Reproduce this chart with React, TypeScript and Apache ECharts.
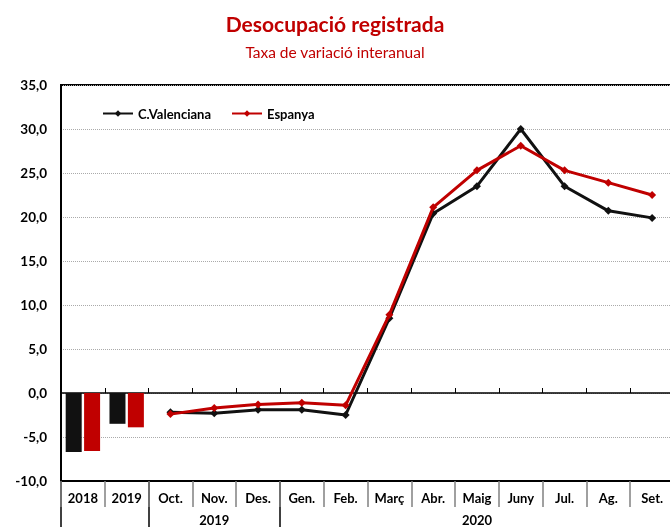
import React, { useEffect, useRef } from "react";
import * as echarts from "echarts";

const categories = ["2018", "2019", "Oct.", "Nov.", "Des.", "Gen.", "Feb.", "Març", "Abr.", "Maig", "Juny", "Jul.", "Ag.", "Set."];
const groupLabels = ["", "", "", "2019", "", "", "", "", "", "2020", "", "", "", ""];
const groupStarts = [0, 2, 5, 14];
const barCV = [-6.7, -3.5, null, null, null, null, null, null, null, null, null, null, null, null];
const barES = [-6.6, -3.9, null, null, null, null, null, null, null, null, null, null, null, null];
const lineCV = [null, null, -2.2, -2.3, -1.9, -1.9, -2.5, 8.5, 20.4, 23.5, 30.0, 23.5, 20.7, 19.9];
const lineES = [null, null, -2.4, -1.7, -1.3, -1.1, -1.4, 8.9, 21.1, 25.3, 28.1, 25.3, 23.9, 22.5];

const FONT = "Lato, 'Noto Sans', sans-serif";
const RED = "#C00000";
const BLACK = "#111111";

export default function App() {
  const ref = useRef<HTMLDivElement>(null);
  useEffect(() => {
    document.body.style.margin = "0";
    const chart = echarts.init(ref.current!, null, { renderer: "svg" });
    const option: any = {
      animation: false,
      textStyle: { fontFamily: FONT },
      title: {
        text: "Desocupació registrada",
        subtext: "Taxa de variació interanual",
        left: "center",
        top: 8,
        itemGap: 10,
        textStyle: { fontFamily: FONT, fontSize: 21, fontWeight: "bold", color: RED },
        subtextStyle: { fontFamily: FONT, fontSize: 15.5, color: RED },
      },
      legend: {
        left: 97,
        top: 102,
        itemGap: 20,
        itemWidth: 30,
        itemHeight: 8,
        data: ["C.Valenciana", "Espanya"],
        textStyle: { fontFamily: FONT, fontSize: 13, fontWeight: "bold", color: "#000" },
      },
      grid: {
        left: 61,
        top: 85,
        right: -4,
        bottom: 46,
        show: true,
        borderColor: "#000",
        borderWidth: 2,
        containLabel: false,
        outerBoundsMode: "none",
      },
      xAxis: [
        {
          type: "category",
          data: categories,
          position: "bottom",
          axisLine: { onZero: false, lineStyle: { color: "#000", width: 2 } },
          axisTick: { show: true, length: 26, inside: false, lineStyle: { color: "#808080", width: 1.5 } },
          axisLabel: { interval: 0, margin: 10, fontFamily: FONT, fontSize: 13, fontWeight: "bold", color: "#000" },
          splitLine: { show: false },
        },
        {
          type: "category",
          data: categories,
          position: "bottom",
          axisLine: { onZero: true, lineStyle: { color: "#000", width: 1.5 } },
          axisTick: { show: true, length: 5, inside: true, lineStyle: { color: "#000", width: 1 } },
          axisLabel: { show: false },
          splitLine: { show: false },
        },
        {
          type: "category",
          data: groupLabels,
          position: "bottom",
          offset: 22,
          axisLine: { show: false, onZero: false },
          axisTick: { show: false },
          axisLabel: { interval: 0, margin: 10, fontFamily: FONT, fontSize: 13, fontWeight: "bold", color: "#000" },
          splitLine: { show: false },
        },
      ],
      yAxis: {
        type: "value",
        min: -10,
        max: 35,
        interval: 5,
        axisLine: { show: true, lineStyle: { color: "#000", width: 2 } },
        axisTick: { show: false },
        axisLabel: {
          margin: 14,
          fontFamily: FONT,
          fontSize: 13.5,
          fontWeight: "bold",
          color: "#000",
          formatter: (v: number) => v.toFixed(1).replace(".", ","),
        },
        splitLine: { show: true, lineStyle: { color: "#aaaaaa", width: 1, type: [1, 1] } },
      },
      series: [
        {
          name: "C.Valenciana bar",
          type: "bar",
          data: barCV,
          barWidth: 16,
          barGap: "15%",
          itemStyle: { color: BLACK },
        },
        {
          name: "Espanya bar",
          type: "bar",
          data: barES,
          barWidth: 16,
          barGap: "15%",
          itemStyle: { color: RED },
        },
        {
          name: "C.Valenciana",
          type: "line",
          data: lineCV,
          symbol: "diamond",
          symbolSize: 8,
          lineStyle: { color: BLACK, width: 3 },
          itemStyle: { color: BLACK },
          z: 3,
        },
        {
          name: "Espanya",
          type: "line",
          data: lineES,
          symbol: "diamond",
          symbolSize: 8,
          lineStyle: { color: RED, width: 3 },
          itemStyle: { color: RED },
          z: 4,
        },
      ],
    };
    chart.setOption(option);

    const c0 = chart.convertToPixel({ xAxisIndex: 0 }, 0) as number;
    const c1 = chart.convertToPixel({ xAxisIndex: 0 }, 1) as number;
    const band = c1 - c0;
    const yBottom = chart.convertToPixel({ yAxisIndex: 0 }, -10) as number;
    const lines = groupStarts.map((i) => {
      const x = Math.round(c0 + band * i - band / 2);
      return {
        type: "line",
        shape: { x1: x, y1: yBottom, x2: x, y2: 540 },
        style: { stroke: "#000", lineWidth: 1.5 },
        silent: true,
      };
    });
    chart.setOption({ graphic: lines });

    return () => chart.dispose();
  }, []);
  return <div ref={ref} style={{ position: "fixed", left: 0, top: 0, width: 670, height: 527 }} />;
}
